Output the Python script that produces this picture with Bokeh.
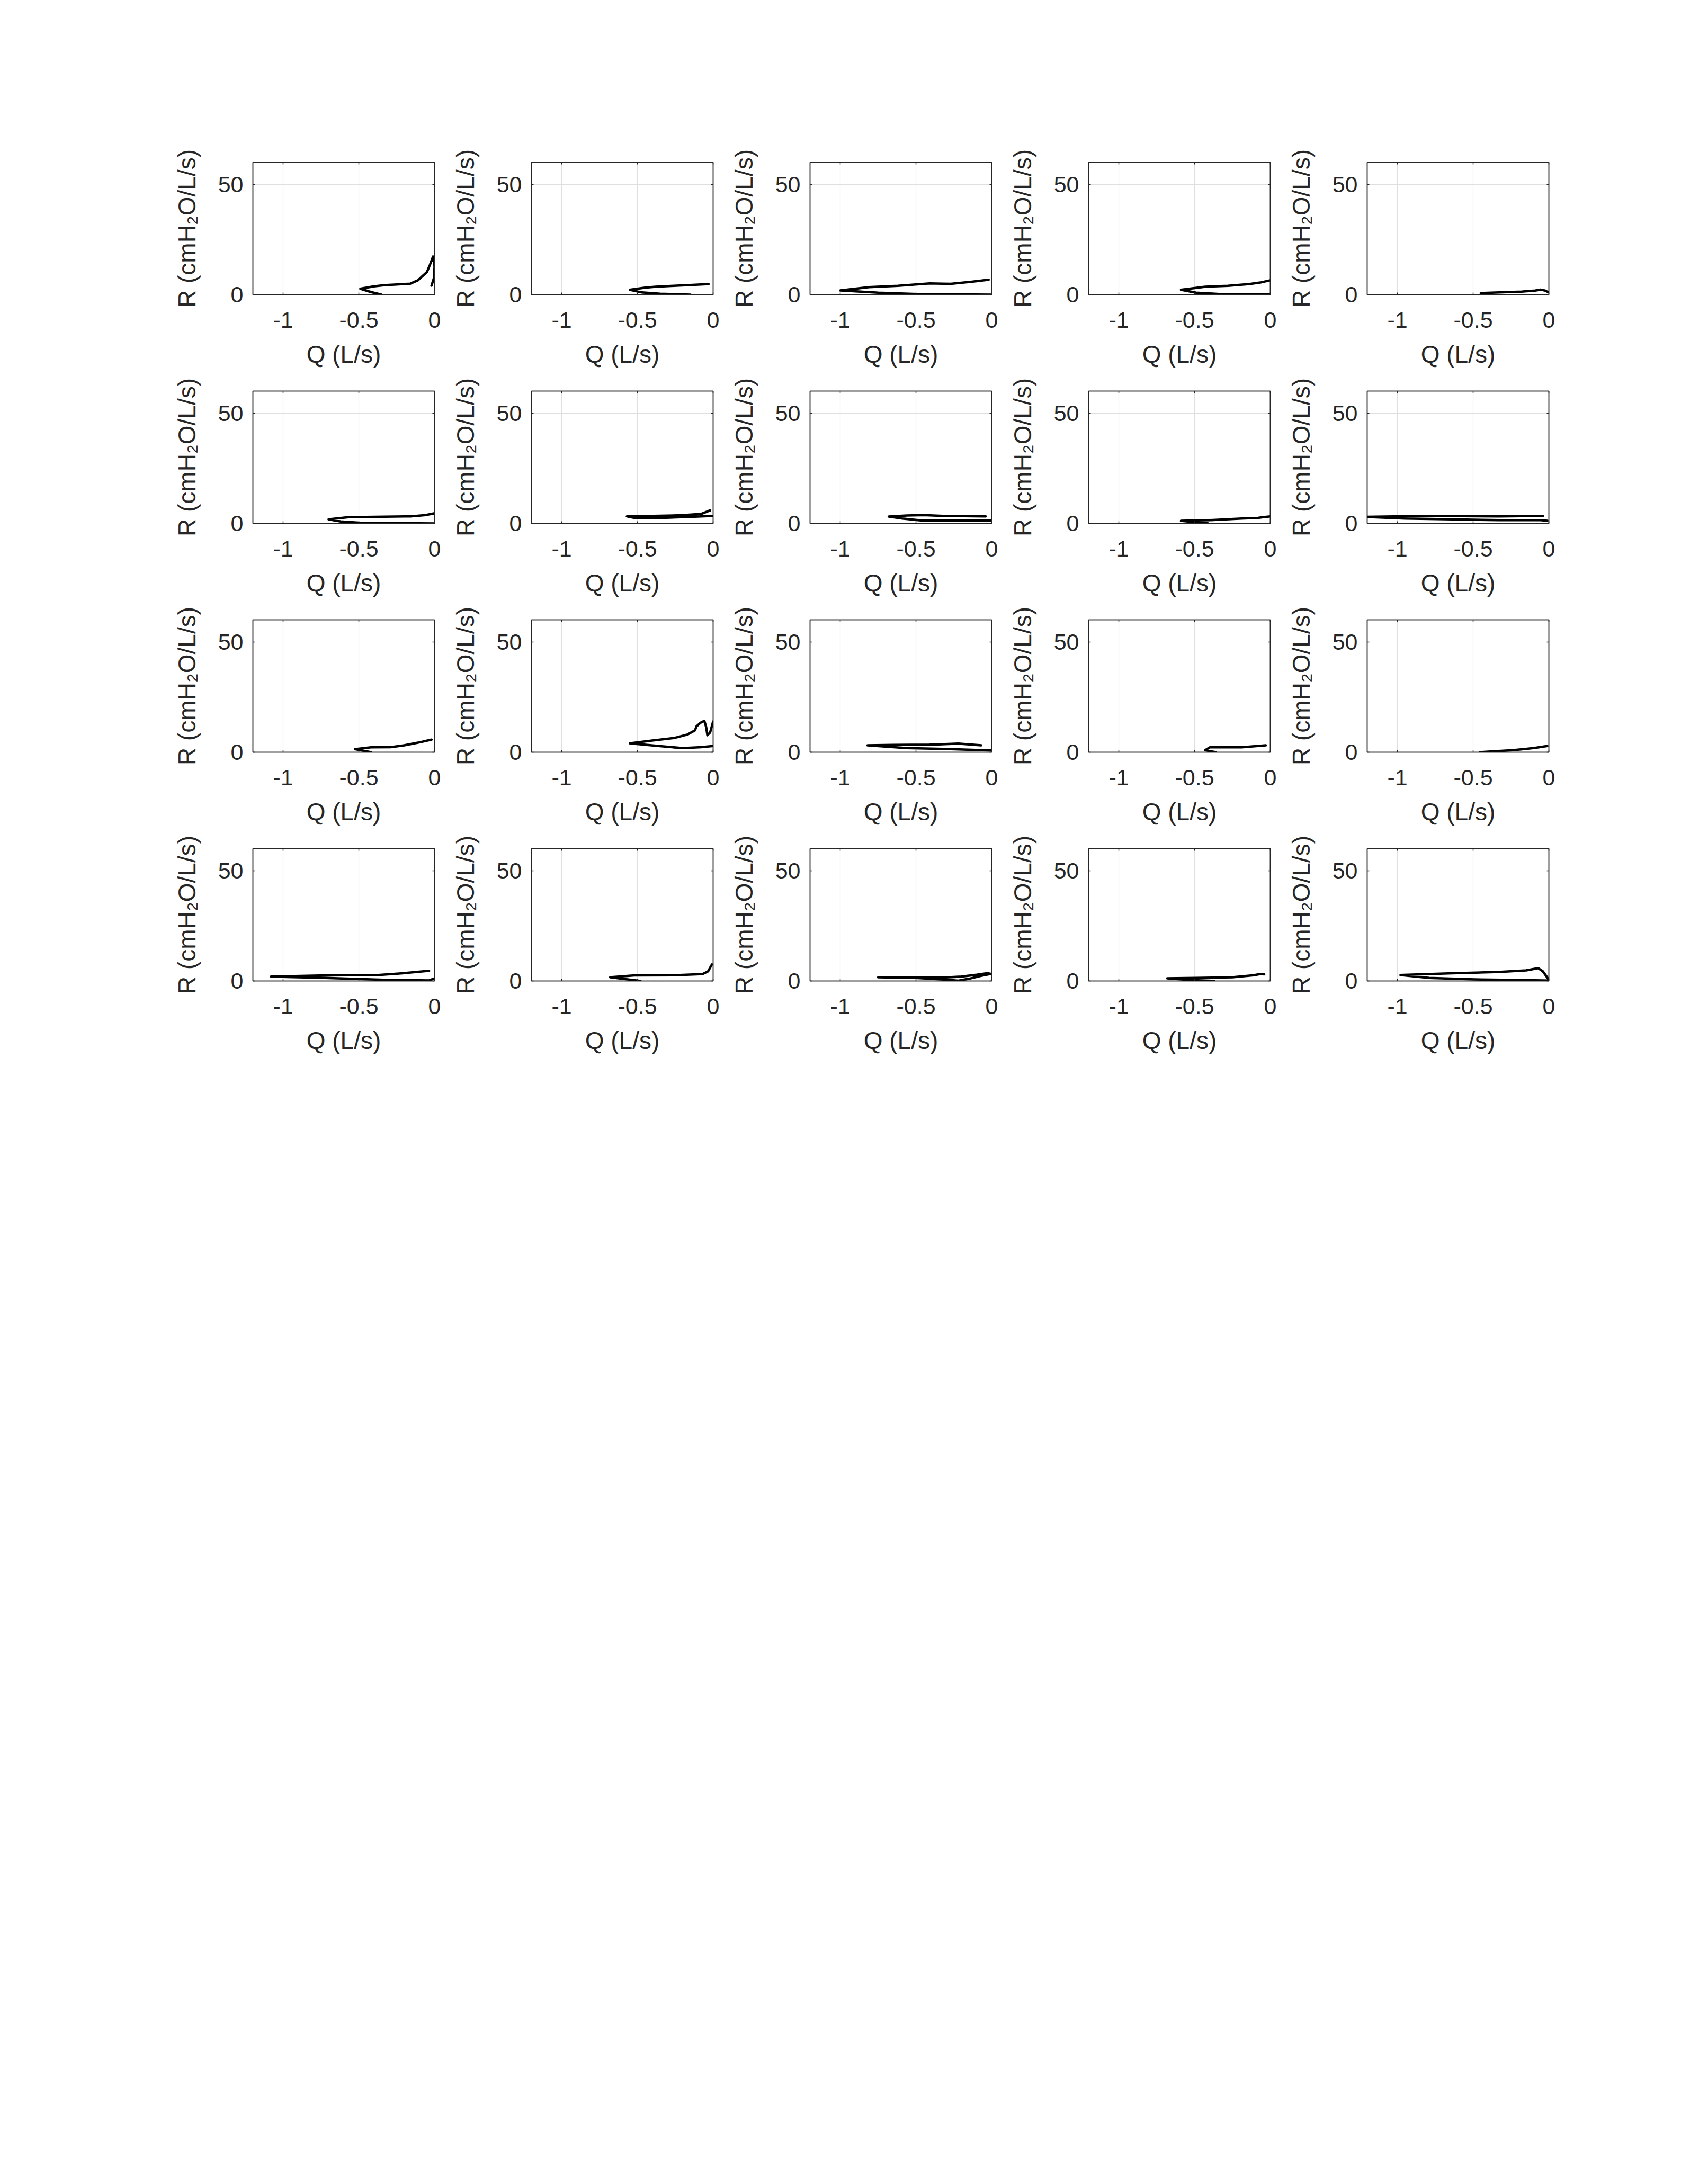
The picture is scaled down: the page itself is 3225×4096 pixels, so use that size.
from bokeh.plotting import figure
from bokeh.layouts import gridplot, column, row, Spacer
from bokeh.models import Range1d, FixedTicker, LinearAxis
from bokeh.embed import file_html
from bokeh.resources import INLINE

# ---- axis definitions ----
x_ticks = [-1, -0.5, 0]
x_tick_labels = ["-1", "-0.5", "0"]
y_ticks = [0, 50]
y_tick_labels = ["0", "50"]
x_label = "Q (L/s)"
y_label = "R (cmH\u2082O/L/s)"

# ---- data: flow Q (L/s) vs resistance R (cmH2O/L/s), one loop per panel ----
q_01 = [-0.35, -0.42, -0.49, -0.40, -0.33, -0.25, -0.16, -0.11, -0.08, -0.05, -0.03, -0.01, 0.0, -0.004, -0.02]
r_01 = [0.0, 1.2, 2.7, 3.8, 4.3, 4.6, 5.0, 6.5, 8.4, 10.3, 13.6, 17.3, 12.7, 7.6, 4.1]
q_02 = [-0.15, -0.35, -0.47, -0.55, -0.45, -0.38, -0.26, -0.15, -0.03]
r_02 = [0.0, 0.4, 1.0, 2.2, 3.2, 3.6, 4.0, 4.4, 4.8]
q_03 = [0.0, -0.22, -0.50, -0.75, -1.0, -0.81, -0.62, -0.41, -0.27, -0.13, -0.02]
r_03 = [0.0, 0.1, 0.3, 0.9, 1.9, 3.4, 4.0, 5.1, 4.9, 5.9, 6.8]
q_04 = [0.0, -0.34, -0.49, -0.59, -0.43, -0.28, -0.14, -0.06, 0.0]
r_04 = [0.1, 0.3, 0.9, 2.2, 3.6, 4.0, 4.8, 5.6, 6.5]
q_05 = [-0.39, -0.45, -0.33, -0.18, -0.09, -0.055, -0.025, -0.006]
r_05 = [0.0, 0.7, 1.0, 1.4, 1.85, 2.3, 1.85, 1.2]
q_06 = [0.0, -0.21, -0.49, -0.62, -0.70, -0.57, -0.39, -0.16, -0.06, 0.0]
r_06 = [0.0, 0.1, 0.3, 0.9, 1.85, 2.8, 3.0, 3.2, 3.8, 4.6]
q_07 = [0.0, -0.14, -0.31, -0.52, -0.57, -0.39, -0.21, -0.08, -0.02]
r_07 = [3.4, 3.0, 2.6, 2.5, 3.2, 3.4, 3.7, 4.3, 5.9]
q_08 = [0.0, -0.26, -0.47, -0.59, -0.68, -0.56, -0.45, -0.32, -0.04]
r_08 = [1.35, 1.4, 1.4, 2.2, 3.1, 3.6, 3.8, 3.4, 3.2]
q_09 = [-0.41, -0.59, -0.40, -0.19, -0.08, -0.05, 0.0]
r_09 = [0.0, 1.2, 1.5, 2.2, 2.5, 2.8, 3.2]
q_10 = [-0.01, -0.055, -0.33, -0.64, -0.95, -1.22, -0.79, -0.33, -0.04]
r_10 = [1.2, 1.5, 1.5, 1.85, 2.2, 3.0, 3.4, 3.2, 3.4]
q_11 = [-0.42, -0.525, -0.42, -0.29, -0.20, -0.11, -0.02]
r_11 = [0.0, 1.4, 2.2, 2.3, 3.1, 4.3, 5.7]
q_12 = [0.0, -0.08, -0.20, -0.36, -0.55, -0.41, -0.26, -0.17, -0.12, -0.11, -0.084, -0.058, -0.046, -0.038, -0.02, 0.0]
r_12 = [2.8, 2.3, 1.85, 2.8, 4.0, 5.2, 6.4, 8.0, 9.9, 11.7, 13.3, 14.2, 11.4, 7.7, 8.9, 13.9]
q_13 = [0.0, -0.32, -0.56, -0.82, -0.65, -0.41, -0.22, -0.07]
r_13 = [0.8, 1.5, 1.85, 3.1, 3.3, 3.4, 3.9, 3.1]
q_14 = [-0.36, -0.43, -0.40, -0.31, -0.19, -0.03]
r_14 = [0.0, 0.9, 2.2, 2.3, 2.2, 3.1]
q_15 = [-0.455, -0.36, -0.24, -0.15, -0.09, -0.01]
r_15 = [0.0, 0.4, 0.9, 1.5, 2.0, 2.8]
q_16 = [0.0, -0.036, -0.34, -0.72, -1.08, -0.72, -0.37, -0.21, -0.036]
r_16 = [1.2, 0.25, 0.55, 1.4, 2.0, 2.5, 2.7, 3.5, 4.6]
q_17 = [-0.48, -0.68, -0.52, -0.26, -0.07, -0.033, -0.008]
r_17 = [0.0, 1.7, 2.5, 2.6, 3.1, 4.4, 7.5]
q_18 = [0.0, -0.07, -0.15, -0.22, -0.35, -0.5, -0.75, -0.5, -0.3, -0.2, -0.1, -0.02]
r_18 = [3.3, 2.3, 1.0, 0.1, 0.8, 1.4, 1.7, 1.7, 1.6, 2.0, 2.8, 3.6]
q_19 = [-0.37, -0.525, -0.68, -0.49, -0.25, -0.11, -0.064, -0.04]
r_19 = [0.0, 0.4, 1.2, 1.4, 1.7, 2.6, 3.2, 3.0]
q_20 = [0.0, -0.18, -0.49, -0.79, -0.98, -0.64, -0.33, -0.15, -0.07, -0.04, -0.009, 0.0]
r_20 = [0.2, 0.4, 0.7, 1.4, 2.7, 3.5, 4.1, 4.8, 5.8, 4.4, 1.4, 0.7]

panels = [
    (q_01, r_01), (q_02, r_02), (q_03, r_03), (q_04, r_04), (q_05, r_05),
    (q_06, r_06), (q_07, r_07), (q_08, r_08), (q_09, r_09), (q_10, r_10),
    (q_11, r_11), (q_12, r_12), (q_13, r_13), (q_14, r_14), (q_15, r_15),
    (q_16, r_16), (q_17, r_17), (q_18, r_18), (q_19, r_19), (q_20, r_20),
]

FONT = "Liberation Sans"
AX = "#262626"


def style_axis(ax, ticks, labels, show_labels):
    ax.ticker = FixedTicker(ticks=ticks)
    ax.major_label_overrides = dict(zip(ticks, labels))
    ax.minor_tick_line_color = None
    ax.major_tick_in = 4
    ax.major_tick_out = 0
    ax.major_tick_line_color = AX
    ax.major_tick_line_width = 1.5
    ax.axis_line_color = AX
    ax.axis_line_width = 1.5
    ax.major_label_text_font = FONT
    ax.major_label_text_color = AX
    if show_labels:
        ax.major_label_text_font_size = "43px"
    else:
        ax.major_label_text_font_size = "0px"
        ax.major_label_standoff = 0
        ax.axis_label_standoff = 0


def make_panel(q, r):
    p = figure(frame_width=343, frame_height=250,
               min_border_left=150, min_border_right=29,
               min_border_top=28, min_border_bottom=154,
               x_range=Range1d(-1.2, 0), y_range=Range1d(0, 60),
               output_backend="svg", toolbar_location=None, tools="")
    p.background_fill_color = "white"
    p.border_fill_color = "white"
    p.outline_line_color = AX
    p.outline_line_width = 1.5
    p.outline_line_alpha = 1.0

    style_axis(p.xaxis[0], x_ticks, x_tick_labels, True)
    style_axis(p.yaxis[0], y_ticks, y_tick_labels, True)
    p.xaxis.major_label_standoff = 33
    p.yaxis.major_label_standoff = 18

    p.xaxis.axis_label = x_label
    p.yaxis.axis_label = y_label
    for ax in (p.xaxis[0], p.yaxis[0]):
        ax.axis_label_text_font = FONT
        ax.axis_label_text_font_style = "normal"
        ax.axis_label_text_font_size = "46px"
        ax.axis_label_text_color = AX
    p.xaxis.axis_label_standoff = 21
    p.yaxis.axis_label_standoff = 30

    top = LinearAxis()
    style_axis(top, x_ticks, ["", "", ""], False)
    p.add_layout(top, "above")
    right = LinearAxis()
    style_axis(right, y_ticks, ["", ""], False)
    p.add_layout(right, "right")

    p.xgrid.grid_line_color = "#dfdfdf"
    p.ygrid.grid_line_color = "#dfdfdf"
    p.xgrid.grid_line_width = 1.2
    p.ygrid.grid_line_width = 1.2

    p.line(q, r, line_color="black", line_width=4.5, line_join="round", line_cap="round")
    return p


figs = [make_panel(q, r) for q, r in panels]
rows = [figs[i:i + 5] for i in range(0, 20, 5)]
grid = gridplot(rows, toolbar_location=None)

layout = column(Spacer(height=278), row(Spacer(width=323), grid))

open("out.html", "w").write(file_html(layout, INLINE))
